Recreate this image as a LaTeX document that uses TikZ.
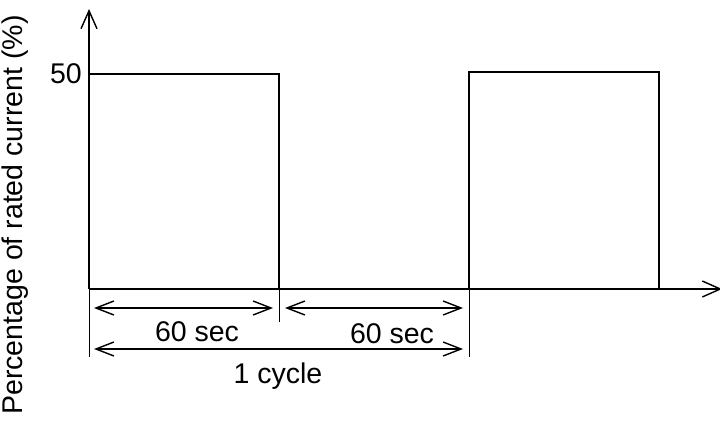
\documentclass[tikz,border=0pt]{standalone}
\usepackage{fontspec}
\setmainfont{Liberation Sans}
\usetikzlibrary{arrows.meta}
\begin{document}
\begin{tikzpicture}[x=1pt,y=-1pt,
  lbl/.style={font=\fontsize{28.5}{32}\selectfont, inner sep=0pt},
  pulse/.style={line width=2pt, line join=miter},
  axis/.style={line width=1.5pt, -{Straight Barb[length=18pt,width=16pt,line width=1.4pt]}},
  ext/.style={line width=1pt},
  dim/.style={line width=1.3pt, {Straight Barb[length=18pt,width=14pt,line width=1.4pt]}-{Straight Barb[length=18pt,width=14pt,line width=1.4pt]}}]
\useasboundingbox (0,0) rectangle (720,425);
\coordinate (o) at (89,289);
\coordinate (ytip) at (89,9);
\coordinate (xtip) at (722,289);
\coordinate (a1) at (89,74);
\coordinate (a2) at (279,74);
\coordinate (a3) at (279,289);
\coordinate (b0) at (469,289);
\coordinate (b1) at (469,72);
\coordinate (b2) at (659,72);
\coordinate (b3) at (659,289);
\coordinate (e1) at (89,357);
\coordinate (e2) at (279,322);
\coordinate (e3) at (469,357);
% axes
\draw[axis] (o) -- (ytip);
\draw[axis] (o) -- (xtip);
% pulses
\draw[pulse] (a1) -- (a2) -- (a3);
\draw[pulse] (b0) -- (b1) -- (b2) -- (b3);
% extension lines
\draw[ext] (o) -- (e1);
\draw[ext] (a3) -- (e2);
\draw[ext] (b0) -- (e3);
% dimension arrows
\draw[dim] (94,308) -- (273,308);
\draw[dim] (285,308) -- (463,308);
\draw[dim] (94,349) -- (463,349);
% labels
\node[lbl, anchor=east] (l50) at (82,74) {50};
\node[lbl] (t1) at (197,332) {60 sec};
\node[lbl] (t2) at (392,334) {60 sec};
\node[lbl] (t3) at (278,376) {1 cycle};
\node[lbl, rotate=90] (ylab) at (15,215) {Percentage of rated current (\%)};
\end{tikzpicture}
\end{document}
